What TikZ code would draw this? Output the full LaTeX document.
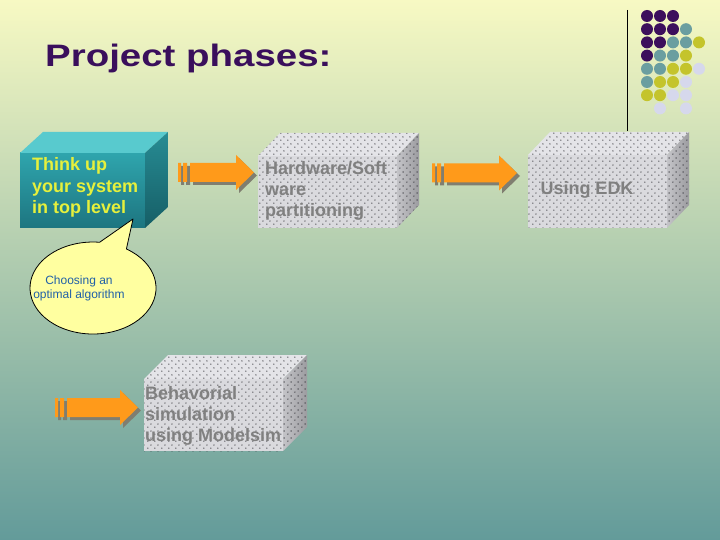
\documentclass[tikz,border=0pt]{standalone}
\usepackage{fontspec}
\setmainfont{Liberation Sans}
\usetikzlibrary{patterns}
\pgfdeclarepatternformonly{boxdots}{\pgfqpoint{0pt}{0pt}}{\pgfqpoint{7pt}{7pt}}{\pgfqpoint{7pt}{7pt}}{%
  \pgfpathcircle{\pgfqpoint{1pt}{1pt}}{0.8pt}%
  \pgfpathcircle{\pgfqpoint{4.5pt}{4.5pt}}{0.8pt}%
  \pgfusepath{fill}}
\definecolor{bgtop}{RGB}{247,249,195}
\definecolor{bgmid}{RGB}{198,214,168}
\definecolor{bgbot}{RGB}{99,155,154}
\definecolor{titlepurple}{RGB}{58,15,92}
\definecolor{dotP}{RGB}{60,15,92}
\definecolor{dotT}{RGB}{106,158,160}
\definecolor{dotY}{RGB}{196,196,44}
\definecolor{dotL}{RGB}{214,216,236}
\definecolor{tealfront1}{RGB}{47,165,173}
\definecolor{tealfront2}{RGB}{29,117,128}
\definecolor{tealtop}{RGB}{88,202,206}
\definecolor{tealside1}{RGB}{39,140,148}
\definecolor{tealside2}{RGB}{22,94,102}
\definecolor{thinkyellow}{RGB}{230,240,60}
\definecolor{grayfront}{RGB}{218,218,222}
\definecolor{graytop}{RGB}{228,228,232}
\definecolor{grayside1}{RGB}{196,196,200}
\definecolor{grayside2}{RGB}{156,156,160}
\definecolor{dotgray}{RGB}{60,60,66}
\definecolor{graytext}{RGB}{128,128,128}
\definecolor{arroworange}{RGB}{255,154,26}
\definecolor{arrowshadow}{RGB}{128,126,112}
\definecolor{calloutfill}{RGB}{255,255,160}
\definecolor{callouttext}{RGB}{32,96,168}
\newcommand\blockarrow[3]{%
  \begin{scope}[shift={(#1,#2)}]
    \pgfmathsetmacro\headbase{#3-18}
    \foreach \dd/\cc in {3/arrowshadow,0/arroworange}{
      \fill[\cc, shift={(\dd,\dd)}]
        (0,-9.5) rectangle (3,9.5)
        (5,-9.5) rectangle (9,9.5)
        (12,-9.5) -- (\headbase,-9.5) -- (\headbase,-17.5) -- (#3,0)
        -- (\headbase,17.5) -- (\headbase,9.5) -- (12,9.5) -- cycle;
    }
  \end{scope}}
\tikzset{
  face/.style={inner sep=0pt, outer sep=0pt, anchor=north west},
  grayfrontface/.style={face, fill=grayfront, postaction={pattern=boxdots, pattern color=dotgray}},
  graytopface/.style={fill=graytop, postaction={pattern=boxdots, pattern color=dotgray}},
  graysideface/.style={left color=grayside1, right color=grayside2, postaction={pattern=boxdots, pattern color=dotgray}},
  boxtext/.style={inner sep=0pt, anchor=base west, align=left, font=\fontsize{18}{21}\selectfont\bfseries},
  gridcircle/.style={radius=6},
}
\begin{document}
\begin{tikzpicture}[x=1pt,y=-1pt]
\useasboundingbox (0,0) rectangle (720,540);
\shade[top color=bgtop, middle color=bgmid, bottom color=bgbot] (0,0) rectangle (720,540);

% title
\node[anchor=base west, inner sep=0pt, text=titlepurple, font=\fontsize{31}{31}\selectfont\bfseries] (title) at (45,67) {\scalebox{1.24}[1]{Project phases:}};

% decoration: line and dot grid
\coordinate (ltop) at (627,10);
\coordinate (lbot) at (627,131);
\draw[line width=1pt] (ltop) -- (lbot);
\foreach \c/\r/\cl in {1/1/dotP,2/1/dotP,3/1/dotP,
  1/2/dotP,2/2/dotP,3/2/dotP,4/2/dotT,
  1/3/dotP,2/3/dotP,3/3/dotT,4/3/dotT,5/3/dotY,
  1/4/dotP,2/4/dotT,3/4/dotT,4/4/dotY,
  1/5/dotT,2/5/dotT,3/5/dotY,4/5/dotY,5/5/dotL,
  1/6/dotT,2/6/dotY,3/6/dotY,4/6/dotL,
  1/7/dotY,2/7/dotY,3/7/dotL,4/7/dotL,
  2/8/dotL,4/8/dotL}{
  \fill[\cl] ({647+13*(\c-1)},{16+13.2*(\r-1)}) circle[gridcircle];
}

% box 1 (teal)
\node[face, minimum width=125pt, minimum height=75pt, top color=tealfront1, bottom color=tealfront2] (b1) at (20,153) {};
\fill[tealtop] (b1.north west) -- ++(23,-21) -- ++(125,0) -- (b1.north east) -- cycle;
\shade[top color=tealside1, bottom color=tealside2] (b1.north east) -- ++(23,-21) -- ++(0,75) -- (b1.south east) -- cycle;
\node[boxtext, text=thinkyellow, font=\fontsize{18}{21.5}\selectfont\bfseries] (t1) at (32,214) {Think up\\your system\\in top level};

% box 2
\node[grayfrontface, minimum width=139pt, minimum height=72pt] (b2) at (258,156) {};
\path[graytopface] (b2.north west) -- ++(22,-23) -- ++(139,0) -- (b2.north east) -- cycle;
\path[graysideface] (b2.north east) -- ++(22,-23) -- ++(0,72) -- (b2.south east) -- cycle;
\node[boxtext, text=graytext, font=\fontsize{18}{20.5}\selectfont\bfseries] (t2) at (265,216) {Hardware/Soft\\ware\\partitioning};

% box 3
\node[grayfrontface, minimum width=139pt, minimum height=73pt] (b3) at (528,155) {};
\path[graytopface] (b3.north west) -- ++(22,-23) -- ++(139,0) -- (b3.north east) -- cycle;
\path[graysideface] (b3.north east) -- ++(22,-23) -- ++(0,73) -- (b3.south east) -- cycle;
\node[inner sep=0pt, anchor=base, text=graytext, font=\fontsize{18}{20}\selectfont\bfseries] (t3) at (587,195) {Using EDK};

% box 4
\node[grayfrontface, minimum width=139pt, minimum height=72pt] (b4) at (144,379) {};
\path[graytopface] (b4.north west) -- ++(24,-24) -- ++(139,0) -- (b4.north east) -- cycle;
\path[graysideface] (b4.north east) -- ++(24,-24) -- ++(0,72) -- (b4.south east) -- cycle;
\node[boxtext, text=graytext] (t4) at (145,441) {Behavorial\\simulation\\using Modelsim};

% arrows
\blockarrow{178}{172.5}{76}
\blockarrow{432}{173}{85}
\blockarrow{55}{407.5}{83}

% callout
\coordinate (ctip) at (133,219);
\filldraw[fill=calloutfill, draw=black, line width=0.8pt, line join=round]
  (99.6,242.3) -- (ctip) -- (126.4,249)
  arc[start angle=-58, end angle=276, x radius=63, y radius=46] -- cycle;
\node[inner sep=0pt, anchor=base, align=center, text=callouttext, font=\fontsize{12}{14}\selectfont] (ct) at (79,298) {Choosing an\\optimal algorithm};
\end{tikzpicture}
\end{document}
